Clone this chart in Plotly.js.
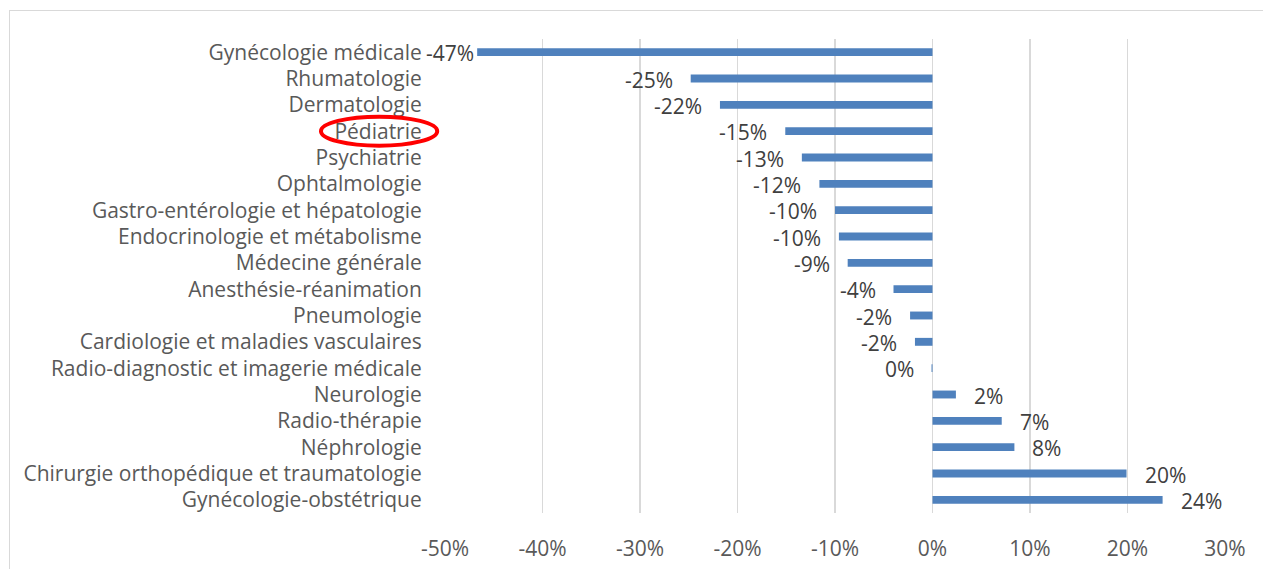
<!DOCTYPE html>
<html>
<head>
<meta charset="utf-8">
<script src="https://cdn.plot.ly/plotly-3.0.1.min.js"></script>
<style>
html,body{margin:0;padding:0;background:#fff;overflow:hidden;}
#frame{position:absolute;left:9px;top:10px;width:1400px;height:700px;border-left:1.5px solid #D9D9D9;border-top:1.5px solid #D9D9D9;}
#chart{position:absolute;left:0;top:0;width:1263px;height:569px;}
</style>
</head>
<body>
<div id="frame"></div>
<div id="chart"></div>
<script>
const categories = [
  "Gynécologie médicale",
  "Rhumatologie",
  "Dermatologie",
  "Pédiatrie",
  "Psychiatrie",
  "Ophtalmologie",
  "Gastro-entérologie et hépatologie",
  "Endocrinologie et métabolisme",
  "Médecine générale",
  "Anesthésie-réanimation",
  "Pneumologie",
  "Cardiologie et maladies vasculaires",
  "Radio-diagnostic et imagerie médicale",
  "Neurologie",
  "Radio-thérapie",
  "Néphrologie",
  "Chirurgie orthopédique et traumatologie",
  "Gynécologie-obstétrique"
];
const values = [-0.467, -0.248, -0.218, -0.151, -0.134, -0.116, -0.100, -0.096, -0.087, -0.040, -0.023, -0.018, -0.001, 0.024, 0.071, 0.084, 0.199, 0.236];
const tickValues = [-0.5, -0.4, -0.3, -0.2, -0.1, 0, 0.1, 0.2, 0.3];
const tickLabels = ["-50%", "-40%", "-30%", "-20%", "-10%", "0%", "10%", "20%", "30%"];
const highlighted = "Pédiatrie";

const FONT = "'Open Sans', Lato, sans-serif";
const SIZE = 21;
const fmt = v => String(Math.round(v * 100)) + "%";

const annotations = values.map((v, i) => {
  const neg = v < 0;
  const gap = v < -0.4 ? 1 : 16;
  return {
    x: v, y: categories[i], xref: "x", yref: "y",
    text: fmt(v), showarrow: false,
    xanchor: neg ? "right" : "left",
    xshift: neg ? -gap : gap, yshift: -1,
    font: {family: FONT, size: SIZE, color: "#404040"}
  };
});

const hi = categories.indexOf(highlighted);

const trace = {
  type: "bar", orientation: "h",
  x: values, y: categories,
  width: 0.3,
  marker: {color: "#4F81BD", line: {width: 0}},
  hoverinfo: "none"
};

const layout = {
  width: 1263, height: 569,
  margin: {l: 445, r: 38, t: 39, b: 56, pad: 0},
  paper_bgcolor: "rgba(0,0,0,0)", plot_bgcolor: "rgba(0,0,0,0)",
  showlegend: false,
  font: {family: FONT, size: SIZE, color: "#595959"},
  xaxis: {
    range: [-0.5, 0.3], tickvals: tickValues, ticktext: tickLabels,
    showgrid: true, gridcolor: "#D9D9D9", gridwidth: 1.5,
    zeroline: true, zerolinecolor: "#D9D9D9", zerolinewidth: 1.5,
    showline: false, ticks: "outside", ticklen: 17, tickcolor: "rgba(0,0,0,0)",
    tickfont: {family: FONT, size: SIZE, color: "#595959"}, fixedrange: true
  },
  yaxis: {
    type: "category", range: [categories.length - 0.5, -0.5],
    showgrid: false, zeroline: false, showline: false,
    ticks: "outside", ticklen: 18, tickcolor: "rgba(0,0,0,0)",
    tickfont: {family: FONT, size: SIZE, color: "#595959"}, fixedrange: true
  },
  annotations: annotations,
  shapes: [{
    type: "circle", xref: "paper", yref: "y",
    x0: -0.159, x1: -0.010, y0: hi - 0.55, y1: hi + 0.55,
    line: {color: "#FF0000", width: 4}, layer: "above"
  }]
};

Plotly.newPlot("chart", [trace], layout, {displayModeBar: false, staticPlot: true});
</script>
</body>
</html>
